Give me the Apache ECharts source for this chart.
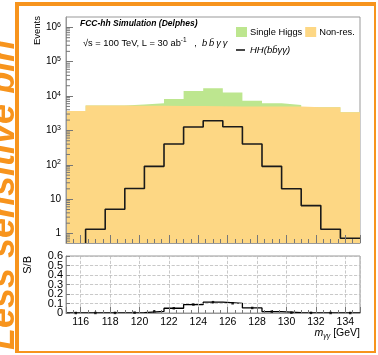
<!DOCTYPE html>
<html>
<head>
<meta charset="utf-8">
<script src="https://cdn.jsdelivr.net/npm/echarts@6/dist/echarts.min.js"></script>
<style>
html, body { margin: 0; padding: 0; background: #fff; }
#container { width: 378px; height: 355px; }
</style>
</head>
<body>
<div id="container"></div>
<script>
// m_yy bins: 15 bins of 4/3 GeV between 115 and 135
var binEdges = [115, 116.333, 117.667, 119, 120.333, 121.667, 123, 124.333, 125.667, 127, 128.333, 129.667, 131, 132.333, 133.667, 135];
var nonRes = [3680, 5320, 5300, 5250, 5200, 5150, 5100, 5050, 5000, 4980, 4950, 4950, 4700, 4700, 3370];
var singleHiggs = [0, 30, 60, 440, 970, 3080, 9000, 11850, 7600, 2360, 1220, 580, 40, 20, 10];
var hhSignal = [0.3, 1.33, 5.1, 20.5, 90, 401, 1257, 1918, 1282, 401, 90, 20, 6.5, 1.33, 0.73];
var sOverB = [0, 0.0003, 0.001, 0.004, 0.017, 0.05, 0.089, 0.114, 0.102, 0.053, 0.015, 0.004, 0.0015, 0.0003, 0.0002];
var sbLabels = ['0', '0.1', '0.2', '0.3', '0.4', '0.5', '0.6'];

var FONT = 'Liberation Sans';
var ORANGE = '#f7941d';
var hhName = 'HH(bb\u0304\u03b3\u03b3)';

function steps(vals) {
	var d = vals.map(function(v, i) { return [binEdges[i], v]; });
	d.push([binEdges[vals.length], vals[vals.length - 1]]);
	return d;
}

function centers(vals) {
	return vals.map(function(v, i) { return [(binEdges[i] + binEdges[i + 1]) / 2, v]; });
}

// single higgs is stacked on top of the non-resonant background
var bkgTotal = nonRes.map(function(v, i) { return v + singleHiggs[i]; });

// log minor ticks 2..9 x 10^n
var minorLog = [];
for (var e = -1; e <= 6; e++) {
	for (var m = 2; m <= 9; m++) {
		var v = m * Math.pow(10, e);
		if (v > 0.53 && v < 2e6) minorLog.push([115, v]);
	}
}

// S/B labels are packed tightly, split them on two axes so none get hidden
function sbLabel(parity) {
	return function(val) {
		var k = Math.round(val * 10);
		return k % 2 === parity ? sbLabels[k] : '';
	};
}

var dom = document.getElementById('container');
var myChart = echarts.init(dom);
var option = {
	animation: false,
	textStyle: { fontFamily: FONT },
	grid: [
		{ left: 66, right: 18, top: 17, height: 226, show: true, borderColor: '#999', borderWidth: 1 },
		{ left: 66, right: 18, top: 256, height: 57, show: true, borderColor: '#999', borderWidth: 1 }
	],
	legend: [
		{
			left: 236, top: 27, padding: 0, itemWidth: 11, itemHeight: 10, itemGap: 3, icon: 'rect',
			data: ['Single Higgs', 'Non-res.'],
			textStyle: { fontSize: 9.3, color: '#000', fontFamily: FONT, padding: [0, 0, 0, -2] }
		},
		{
			left: 236, top: 45, padding: 0, itemWidth: 9, itemHeight: 1.6, icon: 'rect',
			data: [hhName],
			textStyle: { fontSize: 9.5, color: '#000', fontFamily: FONT, fontStyle: 'italic' }
		}
	],
	xAxis: [
		{
			type: 'value', gridIndex: 0, min: 115, max: 135, splitNumber: 10, z: 5,
			axisLine: { show: true, lineStyle: { color: '#999' } },
			axisLabel: { show: false },
			axisTick: { show: true, inside: true, length: 8, lineStyle: { color: '#777' } },
			minorTick: { show: true, splitNumber: 4, length: 4, lineStyle: { color: '#777' } },
			splitLine: { show: false }
		},
		{
			type: 'value', gridIndex: 1, min: 115, max: 135, splitNumber: 10, z: 5,
			axisLine: { show: true, lineStyle: { color: '#999' } },
			axisLabel: { fontSize: 10.5, color: '#000', margin: 4, showMinLabel: false, showMaxLabel: false },
			axisTick: { show: true, inside: true, length: 6, lineStyle: { color: '#777' } },
			minorTick: { show: true, splitNumber: 4, length: 3, lineStyle: { color: '#777' } },
			splitLine: { show: true, lineStyle: { color: '#bbb', type: 'dashed', width: 0.8 } }
		}
	],
	yAxis: [
		{
			type: 'log', gridIndex: 0, min: 0.53, max: 2e6, logBase: 10, z: 5,
			axisLine: { show: true, lineStyle: { color: '#999' } },
			axisTick: { show: true, inside: true, length: 7, lineStyle: { color: '#777' } },
			splitLine: { show: false },
			axisLabel: {
				margin: 5, color: '#000', showMinLabel: false, showMaxLabel: false,
				formatter: function(val) {
					var lg = Math.log10(val);
					var n = Math.round(lg);
					if (Math.abs(lg - n) > 1e-6) return '';
					if (n === 0) return '{b|1}';
					if (n === 1) return '{b|10}';
					return '{b|10}{s|' + n + '}';
				},
				rich: {
					b: { fontSize: 10, color: '#000', fontFamily: FONT, lineHeight: 12 },
					s: { fontSize: 7, color: '#000', fontFamily: FONT, verticalAlign: 'top', lineHeight: 12 }
				}
			}
		},
		{
			type: 'value', gridIndex: 1, min: 0, max: 0.6, interval: 0.1, z: 5,
			axisLine: { show: true, lineStyle: { color: '#999' } },
			axisTick: { show: true, inside: true, length: 4, lineStyle: { color: '#777' } },
			splitLine: { show: true, lineStyle: { color: '#bbb', type: 'dashed', width: 0.8 } },
			axisLabel: {
				fontSize: 11, color: '#000', margin: 3,
				showMinLabel: true, showMaxLabel: true, hideOverlap: false,
				formatter: sbLabel(0)
			}
		},
		{
			type: 'value', gridIndex: 1, min: 0, max: 0.6, interval: 0.1, z: 5, position: 'left',
			axisLine: { show: false }, axisTick: { show: false }, splitLine: { show: false },
			axisLabel: {
				fontSize: 11, color: '#000', margin: 3,
				showMinLabel: true, showMaxLabel: true, hideOverlap: false,
				formatter: sbLabel(1)
			}
		}
	],
	series: [
		{
			name: 'Single Higgs', type: 'line', step: 'end',
			xAxisIndex: 0, yAxisIndex: 0, data: steps(bkgTotal), symbol: 'none',
			lineStyle: { width: 0 }, itemStyle: { color: '#bde68f' },
			areaStyle: { color: '#bde68f', opacity: 1, origin: 'start' }, z: 1
		},
		{
			name: 'Non-res.', type: 'line', step: 'end',
			xAxisIndex: 0, yAxisIndex: 0, data: steps(nonRes), symbol: 'none',
			lineStyle: { width: 0 }, itemStyle: { color: '#fdd784' },
			areaStyle: { color: '#fdd784', opacity: 1, origin: 'start' }, z: 2
		},
		{
			name: hhName, type: 'line', step: 'end',
			xAxisIndex: 0, yAxisIndex: 0, data: steps(hhSignal), symbol: 'none',
			lineStyle: { color: '#1a1a1a', width: 1.6 }, itemStyle: { color: '#1a1a1a' }, z: 4
		},
		{
			type: 'custom', xAxisIndex: 0, yAxisIndex: 0, data: minorLog, silent: true, z: 6, clip: false,
			renderItem: function(params, api) {
				var p = api.coord([api.value(0), api.value(1)]);
				return {
					type: 'line',
					shape: { x1: p[0], y1: p[1], x2: p[0] + 4, y2: p[1] },
					style: { stroke: '#777', lineWidth: 1 }
				};
			}
		},
		{
			name: 'S/B', type: 'line', step: 'end',
			xAxisIndex: 1, yAxisIndex: 1, data: steps(sOverB), symbol: 'none',
			lineStyle: { color: '#000', width: 1.3 }, z: 4
		},
		{
			type: 'scatter', xAxisIndex: 1, yAxisIndex: 1, data: centers(sOverB),
			symbol: 'rect', symbolSize: 2.5, itemStyle: { color: '#000' }, z: 5
		}
	],
	graphic: [
		{
			type: 'text', x: 22, y: 350, rotation: Math.PI / 2,
			style: { text: 'Less sensitive bin', font: 'italic bold 36px "Liberation Sans"', fill: ORANGE, textAlign: 'left', textVerticalAlign: 'bottom' }
		},
		{ type: 'rect', shape: { x: 15, y: 2, width: 4, height: 351 }, style: { fill: ORANGE } },
		{ type: 'rect', shape: { x: 15, y: 2, width: 361, height: 4 }, style: { fill: ORANGE } },
		{ type: 'rect', shape: { x: 374, y: 2, width: 2, height: 351 }, style: { fill: ORANGE } },
		{ type: 'rect', shape: { x: 15, y: 351, width: 361, height: 2 }, style: { fill: ORANGE } },
		{
			type: 'text', x: 37, y: 16, rotation: Math.PI / 2,
			style: { text: 'Events', font: '9.5px "Liberation Sans"', fill: '#000', textAlign: 'right', textVerticalAlign: 'middle' }
		},
		{
			type: 'text', x: 28, y: 256, rotation: Math.PI / 2,
			style: { text: 'S/B', font: '11px "Liberation Sans"', fill: '#000', textAlign: 'right', textVerticalAlign: 'middle' }
		},
		{
			type: 'text', x: 80, y: 19,
			style: { text: 'FCC-hh Simulation (Delphes)', font: 'italic bold 8.5px "Liberation Sans"', fill: '#000' }
		},
		{
			type: 'text', x: 83, y: 37,
			style: {
				text: '{r|\u221as = 100 TeV, L = 30 ab}{sup|-1}{r|   ,  }{it|b\u2009b\u0304\u2009\u03b3\u2009\u03b3}',
				fill: '#000',
				rich: {
					r: { fontSize: 9.3, fontFamily: FONT, lineHeight: 12 },
					sup: { fontSize: 6.5, verticalAlign: 'top', fontFamily: FONT, lineHeight: 12 },
					it: { fontSize: 9.3, fontStyle: 'italic', fontFamily: FONT, lineHeight: 12 }
				}
			}
		},
		{
			type: 'text', x: 360, y: 326,
			style: {
				text: '{m|m}{s|\u03b3\u03b3}{g| [GeV]}',
				fill: '#000', textAlign: 'right',
				rich: {
					m: { fontSize: 10.5, fontStyle: 'italic', fontFamily: FONT, lineHeight: 14 },
					s: { fontSize: 7, fontStyle: 'italic', fontFamily: FONT, verticalAlign: 'bottom', lineHeight: 14 },
					g: { fontSize: 10.5, fontFamily: FONT, lineHeight: 14 }
				}
			}
		}
	]
};
myChart.setOption(option);
</script>
</body>
</html>
